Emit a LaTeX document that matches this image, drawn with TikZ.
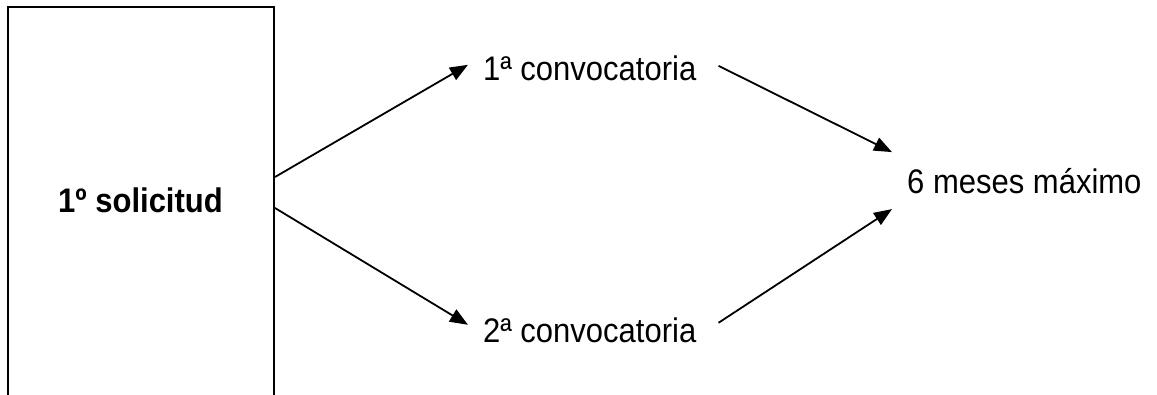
\documentclass[tikz,border=0pt]{standalone}
\usepackage{fontspec}
\setmainfont{Liberation Sans}
\usetikzlibrary{arrows.meta}
\newcommand{\tall}[1]{\scalebox{1}[1.1]{#1}}
\begin{document}
\begin{tikzpicture}[x=1pt,y=-1pt,
  lbl/.style={inner sep=0pt, font=\fontsize{31}{36}\selectfont, anchor=base west},
  conn/.style={line width=1.8pt, -{Triangle[length=18pt,width=14pt]}},
  frame/.style={draw, line width=2pt, minimum width=266pt, minimum height=420pt, inner sep=0pt}]
\useasboundingbox (0,0) rectangle (1157,395);
\clip (0,0) rectangle (1157,395);
\node[frame] (box) at (141,217) {};
\node[lbl, font=\fontsize{31}{36}\selectfont\bfseries] (sol) at (58,213) {\tall{1º solicitud}};
\node[lbl] (c1) at (483,81) {\tall{1ª convocatoria}};
\node[lbl] (c2) at (483,343) {\tall{2ª convocatoria}};
\node[lbl] (m) at (907,194) {\tall{6 meses máximo}};
\draw[conn] ([yshift=40pt]box.east) -- ([xshift=-15pt,yshift=4pt]c1.west);
\draw[conn] ([yshift=9pt]box.east) -- ([xshift=-15pt,yshift=6pt]c2.west);
\draw[conn] ([xshift=22pt,yshift=3pt]c1.east) -- ([xshift=-15pt,yshift=29.5pt]m.west);
\draw[conn] ([xshift=22pt,yshift=8pt]c2.east) -- ([xshift=-15pt,yshift=-27.5pt]m.west);
\end{tikzpicture}
\end{document}
